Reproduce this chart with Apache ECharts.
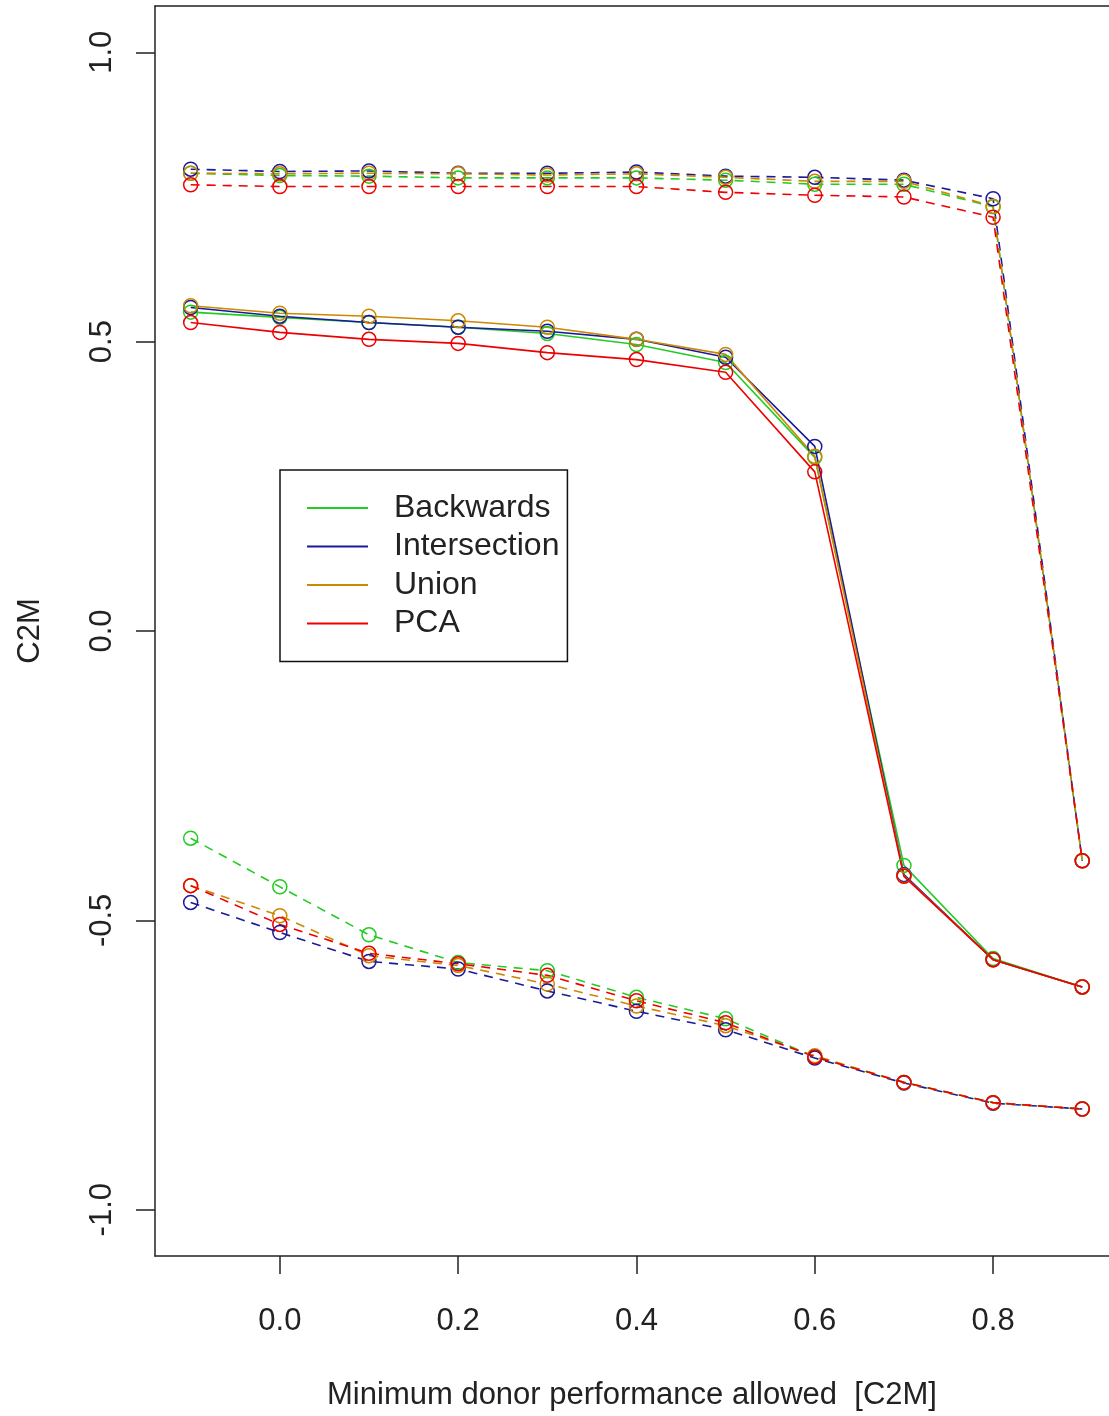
<!DOCTYPE html>
<html lang="en">
  <head>
    <meta charset="UTF-8" />
    <title>C2M vs minimum donor performance</title>
    <script src="https://cdn.jsdelivr.net/npm/echarts@6.0.0/dist/echarts.min.js"></script>
    <style>
      html, body { margin: 0; padding: 0; background: #fff; }
      #main { width: 1109px; height: 1416px; }
    </style>
  </head>
  <body>
    <div id="main"></div>

    <script>
      // x positions (minimum donor performance allowed)
      const xValues = [-0.1, 0.0, 0.1, 0.2, 0.3, 0.4, 0.5, 0.6, 0.7, 0.8, 0.9];
      const methods = ['Backwards', 'Intersection', 'Union', 'PCA'];
      const yTicks = [-1.0, -0.5, 0.0, 0.5, 1.0];
      const xTicks = [0.0, 0.2, 0.4, 0.6, 0.8];

      // upper dashed group
      const backwardsTop = [0.791, 0.787, 0.786, 0.783, 0.783, 0.783, 0.779, 0.772, 0.772, 0.733, -0.397];
      const intersectionTop = [0.798, 0.794, 0.795, 0.791, 0.791, 0.793, 0.786, 0.784, 0.779, 0.747, -0.397];
      const unionTop = [0.791, 0.790, 0.791, 0.790, 0.788, 0.790, 0.784, 0.777, 0.777, 0.734, -0.397];
      const pcaTop = [0.771, 0.768, 0.768, 0.768, 0.768, 0.768, 0.758, 0.753, 0.750, 0.715, -0.397];

      // solid middle group
      const backwardsMid = [0.551, 0.542, 0.533, 0.525, 0.514, 0.495, 0.464, 0.300, -0.405, -0.566, -0.615];
      const intersectionMid = [0.559, 0.544, 0.533, 0.525, 0.518, 0.504, 0.473, 0.319, -0.421, -0.568, -0.615];
      const unionMid = [0.562, 0.549, 0.544, 0.536, 0.525, 0.504, 0.478, 0.302, -0.423, -0.568, -0.615];
      const pcaMid = [0.533, 0.516, 0.504, 0.497, 0.481, 0.469, 0.447, 0.275, -0.424, -0.568, -0.615];

      // lower dashed group
      const backwardsLow = [-0.358, -0.442, -0.525, -0.573, -0.587, -0.633, -0.670, -0.736, -0.780, -0.815, -0.826];
      const intersectionLow = [-0.469, -0.521, -0.571, -0.584, -0.622, -0.657, -0.689, -0.738, -0.781, -0.816, -0.826];
      const unionLow = [-0.440, -0.492, -0.561, -0.578, -0.610, -0.648, -0.682, -0.734, -0.780, -0.815, -0.826];
      const pcaLow = [-0.440, -0.507, -0.557, -0.575, -0.595, -0.639, -0.677, -0.736, -0.780, -0.815, -0.826];

      const colors = {
        Backwards: '#22cc22',
        Intersection: '#1a1a9a',
        Union: '#cc8800',
        PCA: '#ee0000',
      };

      const groups = [
        { dashed: true, values: { Backwards: backwardsTop, Intersection: intersectionTop, Union: unionTop, PCA: pcaTop } },
        { dashed: false, values: { Backwards: backwardsMid, Intersection: intersectionMid, Union: unionMid, PCA: pcaMid } },
        { dashed: true, values: { Backwards: backwardsLow, Intersection: intersectionLow, Union: unionLow, PCA: pcaLow } },
      ];

      const font = 'Liberation Sans, Arial, sans-serif';
      const textColor = '#222';
      const frame = { color: '#222', width: 1.5 };

      const series = [];
      groups.forEach((g) => {
        methods.forEach((m) => {
          series.push({
            name: m,
            type: 'line',
            data: xValues.map((x, i) => [x, g.values[m][i]]),
            symbol: 'circle',
            symbolSize: 14,
            showSymbol: true,
            itemStyle: { color: 'rgba(0,0,0,0)', borderColor: colors[m], borderWidth: 1.5 },
            lineStyle: { color: colors[m], width: 1.6, type: g.dashed ? [9, 7] : 'solid' },
            emphasis: { disabled: true },
          });
        });
      });

      // the plot box runs off the right edge of the picture, so the scale is cut at 0.93
      const options = {
        animation: false,
        backgroundColor: '#fff',
        grid: { left: 155, top: 6, right: 0, height: 1250 },
        legend: {
          orient: 'vertical',
          left: 280,
          top: 470,
          padding: [19, 8, 19, 27],
          itemGap: 0.5,
          itemWidth: 61,
          itemHeight: 2,
          borderColor: '#111',
          borderWidth: 1.5,
          backgroundColor: '#fff',
          selectedMode: false,
          data: methods.map((m) => ({ name: m, icon: 'rect', itemStyle: { color: colors[m], borderWidth: 0 } })),
          textStyle: { fontFamily: font, fontSize: 32, color: textColor, lineHeight: 38, padding: [0, 0, 0, 21] },
        },
        xAxis: [
          {
            type: 'value',
            min: -0.14,
            max: 0.93,
            name: 'Minimum donor performance allowed  [C2M]',
            nameLocation: 'middle',
            nameGap: 124,
            nameTextStyle: { fontFamily: font, fontSize: 31, color: textColor },
            axisLine: { show: true, onZero: false, lineStyle: frame },
            splitLine: { show: false },
            axisTick: { show: true, length: 18, customValues: xTicks, lineStyle: frame },
            axisLabel: {
              customValues: xTicks,
              margin: 50,
              fontFamily: font,
              fontSize: 31,
              color: textColor,
              formatter: (v) => v.toFixed(1),
            },
          },
          {
            // top side of the box
            type: 'value',
            position: 'top',
            min: -0.14,
            max: 0.93,
            axisLine: { show: true, onZero: false, lineStyle: frame },
            axisTick: { show: false },
            axisLabel: { show: false },
            splitLine: { show: false },
          },
        ],
        yAxis: {
          type: 'value',
          min: -1.08,
          max: 1.08,
          name: 'C2M',
          nameLocation: 'middle',
          nameRotate: 90,
          nameGap: 109,
          nameTextStyle: { fontFamily: font, fontSize: 31, color: textColor },
          axisLine: { show: true, onZero: false, lineStyle: frame },
          splitLine: { show: false },
          axisTick: { show: true, length: 19, customValues: yTicks, lineStyle: frame },
          axisLabel: {
            customValues: yTicks,
            rotate: 90,
            margin: 37,
            fontFamily: font,
            fontSize: 31,
            color: textColor,
            formatter: (v) => v.toFixed(1),
          },
        },
        series: series,
      };

      const myChart = echarts.init(document.querySelector('#main'));
      myChart.setOption(options);
    </script>
  </body>
</html>
